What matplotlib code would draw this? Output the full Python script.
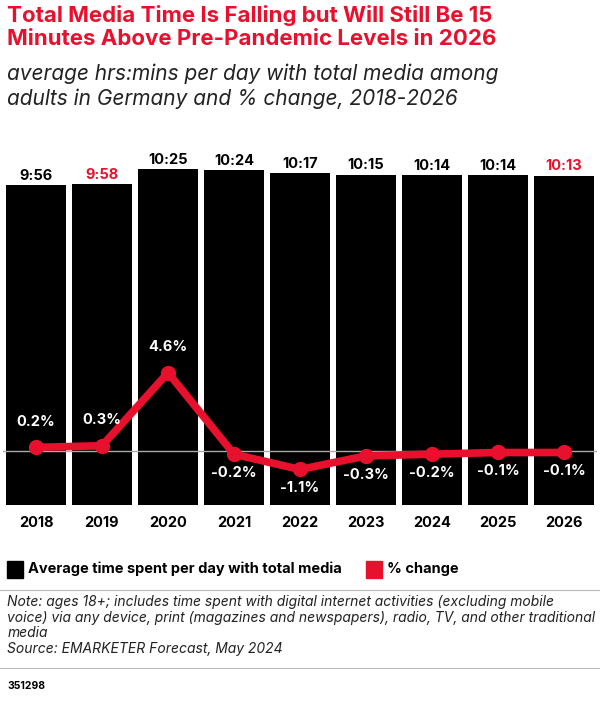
import matplotlib.pyplot as plt

years = ['2018', '2019', '2020', '2021', '2022', '2023', '2024', '2025', '2026']
minutes = [596, 598, 625, 624, 617, 615, 614, 614, 613]
time_labels = ['9:56', '9:58', '10:25', '10:24', '10:17', '10:15', '10:14', '10:14', '10:13']
pct = [0.2, 0.3, 4.6, -0.2, -1.1, -0.3, -0.2, -0.1, -0.1]
pct_labels = ['0.2%', '0.3%', '4.6%', '-0.2%', '-1.1%', '-0.3%', '-0.2%', '-0.1%', '-0.1%']
red_labels = {'2019', '2026'}

RED = '#e8112d'
plt.rcParams['font.family'] = ['Inter', 'DejaVu Sans']

fig = plt.figure(figsize=(6, 7.01), dpi=100)
ax = fig.add_axes([0.005, 0.28, 0.99, 0.52])
x = list(range(len(years)))
ax.bar(x, minutes, width=0.9, color='black')
ax.set_ylim(0, 625 / 336 * 365)
ax.set_xlim(-0.5, len(years) - 0.5)
for i, (m, t) in enumerate(zip(minutes, time_labels)):
    ax.text(i, m + 4, t, ha='center', va='bottom', fontsize=10.5, fontweight='bold',
            color=RED if years[i] in red_labels else 'black')
ax.axis('off')

ax2 = ax.twinx()
ax2.set_ylim(-54 / 17, 311 / 17)
ax2.axhline(0, color='#aaaaaa', lw=1)
ax2.plot(x, pct, color=RED, lw=5.5, marker='o', ms=10, solid_capstyle='round')
for i, (p, l) in enumerate(zip(pct, pct_labels)):
    off = 1.5 if p > 0 else -1.1
    ax2.text(i, p + off, l, ha='center', va='center', fontsize=10.5, fontweight='bold', color='white')
ax2.axis('off')

for i, y in enumerate(years):
    fig.text((0.005 + 0.99 * (i + 0.5) / len(years)), 1 - 523 / 701, y,
             ha='center', va='center', fontsize=10.5, fontweight='bold')

fig.text(0.012, 0.993, 'Total Media Time Is Falling but Will Still Be 15\nMinutes Above Pre-Pandemic Levels in 2026',
         ha='left', va='top', fontsize=16, fontweight='bold', color=RED, linespacing=1.2)
fig.text(0.012, 0.91, 'average hrs:mins per day with total media among\nadults in Germany and % change, 2018-2026',
         ha='left', va='top', fontsize=15, style='italic', color='#222222', linespacing=1.3)

# legend
fig.patches.append(plt.Rectangle((0.012, 1 - 578 / 701), 0.027, 0.024, color='black', transform=fig.transFigure))
fig.text(0.047, 1 - 569 / 701, 'Average time spent per day with total media', va='center', fontsize=10.5, fontweight='bold')
fig.patches.append(plt.Rectangle((0.61, 1 - 578 / 701), 0.027, 0.024, color=RED, transform=fig.transFigure))
fig.text(0.645, 1 - 569 / 701, '% change', va='center', fontsize=10.5, fontweight='bold')

fig.add_artist(plt.Line2D([0, 1], [1 - 590 / 701] * 2, color='#bbbbbb', lw=0.8))
fig.text(0.012, 1 - 595 / 701,
         'Note: ages 18+; includes time spent with digital internet activities (excluding mobile\n'
         'voice) via any device, print (magazines and newspapers), radio, TV, and other traditional\n'
         'media\nSource: EMARKETER Forecast, May 2024',
         ha='left', va='top', fontsize=10, style='italic', color='#222222', linespacing=1.15)
fig.add_artist(plt.Line2D([0, 1], [1 - 668 / 701] * 2, color='#bbbbbb', lw=0.8))
fig.text(0.012, 1 - 686 / 701, '351298', fontsize=7.5, fontweight='bold', va='center')

fig.savefig('out.png', dpi=100, facecolor='white')
